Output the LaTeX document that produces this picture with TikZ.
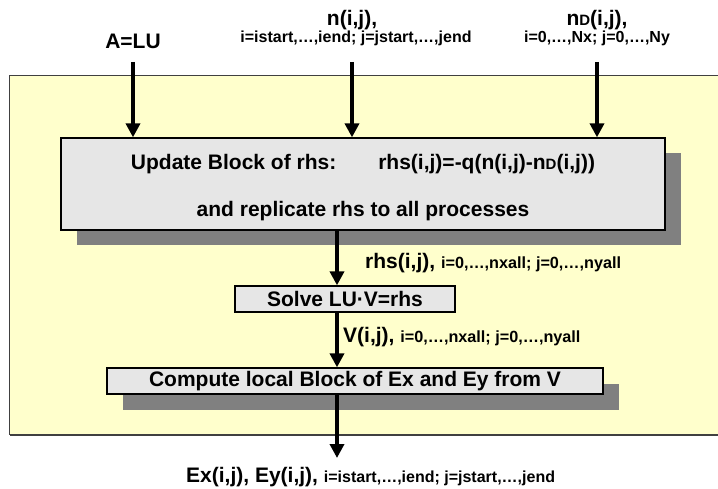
\documentclass[tikz,border=0pt]{standalone}
\usepackage{fontspec}
\setmainfont{Liberation Sans}
\usetikzlibrary{arrows.meta,shadows}
\definecolor{bgyellow}{HTML}{FFFFCC}
\definecolor{boxgray}{HTML}{E6E6E6}
\definecolor{shadowgray}{HTML}{808080}
\definecolor{edgegray}{HTML}{404040}
\newcommand{\bigf}{\fontsize{21}{24}\selectfont}
\newcommand{\smallf}{\fontsize{16.2}{18}\selectfont}
\newcommand{\tinyf}{\fontsize{16}{18}\selectfont}
\newcommand{\scD}{{\fontsize{15}{15}\selectfont D}}
\begin{document}
\begin{tikzpicture}[x=1pt,y=-1pt,
  flowbox/.style={draw=black,line width=1.3pt,fill=boxgray,inner sep=0pt,font=\bigf\bfseries},
  shadowed/.style={drop shadow={shadow xshift=15.5pt,shadow yshift=-15.5pt,fill=shadowgray,opacity=1}},
  arr/.style={line width=4.6pt,-{Triangle[length=14pt,width=14pt]}},
  lab/.style={inner sep=0pt,font=\bigf\bfseries}
]
\useasboundingbox (0,0) rectangle (718,489);
% yellow area
\fill[bgyellow] (9.5,76) rectangle (718,435);
\draw[edgegray,line width=1pt] (718,76) -- (9.5,76) -- (9.5,435);
\draw[edgegray,line width=2pt] (9.5,435) -- (718,435);

% boxes
\node[flowbox,shadowed,minimum width=604pt,minimum height=92pt,align=center] (upd) at (363,184)
  {\rule{0pt}{23pt}Update Block of rhs:\hspace{42pt}rhs(i,j)=-q(n(i,j)-n\scD(i,j))\\[23pt]and replicate rhs to all processes};
\node[flowbox,minimum width=220pt,minimum height=26pt] (solve) at (345,299) {Solve LU·V=rhs};
\node[flowbox,shadowed,minimum width=496pt,minimum height=26pt] (comp) at (355,381) {Compute local Block of Ex and Ey from V};

% top labels
\node[lab] (alu) at (133,41) {A=LU};
\node[lab] (nlab) at (352,20) {n(i,j),};
\node[lab,font=\tinyf\bfseries] (nsub) at (356,38) {i=istart,…,iend; j=jstart,…,jend};
\node[lab] (ndlab) at (597,20) {n\scD(i,j),};
\node[lab,font=\tinyf\bfseries] (ndsub) at (597,38) {i=0,…,Nx; j=0,…,Ny};

% top arrow starts
\coordinate (sa) at (133,62);
\coordinate (sn) at (352,62);
\coordinate (snd) at (597,62);
\draw[arr] (sa) -- (sa |- upd.north);
\draw[arr] (sn) -- (sn |- upd.north);
\draw[arr] (snd) -- (snd |- upd.north);

% middle arrows
\coordinate (mx) at (337,0);
\draw[arr] (mx |- upd.south) -- (mx |- solve.north);
\draw[arr] (mx |- solve.south) -- (mx |- comp.north);
\coordinate (exend) at (337,458);
\draw[arr] (mx |- comp.south) -- (exend);

% side labels
\node[lab,anchor=west] (rhslab) at (365,263) {rhs(i,j), {\smallf i=0,…,nxall; j=0,…,nyall}};
\node[lab,anchor=west] (vlab) at (343,337) {V(i,j), {\smallf i=0,…,nxall; j=0,…,nyall}};
\node[lab,anchor=west] (exlab) at (186,477) {Ex(i,j), Ey(i,j), {\tinyf i=istart,…,iend; j=jstart,…,jend}};
\end{tikzpicture}
\end{document}
